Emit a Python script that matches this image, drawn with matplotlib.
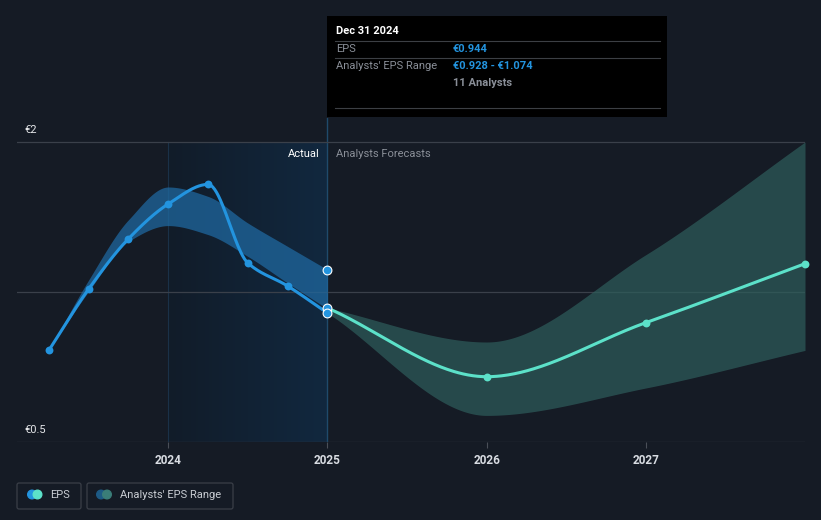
import matplotlib.pyplot as plt
from matplotlib.patches import Rectangle, FancyBboxPatch, Circle
from matplotlib.colors import LinearSegmentedColormap
import numpy as np

# actual EPS (quarterly, trailing)
act_x = [2023.25, 2023.5, 2023.75, 2024.0, 2024.25, 2024.5, 2024.75, 2025.0]
act_y = [0.958, 1.265, 1.516, 1.69, 1.788, 1.395, 1.28, 1.145]

# past analyst range band
past_x = [2023.25, 2023.5, 2023.75, 2024.0, 2024.25, 2024.5, 2024.75, 2025.0]
past_hi = [0.958, 1.31, 1.611, 1.775, 1.728, 1.595, 1.478, 1.362]
past_lo = [0.958, 1.253, 1.503, 1.582, 1.537, 1.428, 1.295, 1.166]

# forecasts
fc_x = [2025.0, 2026.0, 2027.0, 2028.0]
fc_y = [1.17, 0.8265, 1.0965, 1.3915]
fc_hi = [1.17, 1.0, 1.4365, 2.0]
fc_lo = [1.145, 0.633, 0.77, 0.958]

# estimate markers at Dec 31 2024
est_x = [2025.0, 2025.0, 2025.0]
est_y = [1.362, 1.17, 1.145]

years = [2024, 2025, 2026, 2027]

BG = '#151b25'
BLUE = '#2394df'
TEAL = '#5ce1c9'


def smooth(x, y, n=300):
    x = np.asarray(x, float)
    y = np.asarray(y, float)
    h = np.diff(x)
    d = np.diff(y) / h
    m = np.zeros_like(y)
    m[0], m[-1] = d[0], d[-1]
    for k in range(1, len(x) - 1):
        if d[k - 1] * d[k] <= 0:
            m[k] = 0
        else:
            w1 = 2 * h[k] + h[k - 1]
            w2 = h[k] + 2 * h[k - 1]
            m[k] = (w1 + w2) / (w1 / d[k - 1] + w2 / d[k])
    xs = np.linspace(x[0], x[-1], n)
    idx = np.clip(np.searchsorted(x, xs) - 1, 0, len(x) - 2)
    t = (xs - x[idx]) / h[idx]
    h00 = 2 * t**3 - 3 * t**2 + 1
    h10 = t**3 - 2 * t**2 + t
    h01 = -2 * t**3 + 3 * t**2
    h11 = t**3 - t**2
    ys = h00 * y[idx] + h10 * h[idx] * m[idx] + h01 * y[idx + 1] + h11 * h[idx] * m[idx + 1]
    return xs, ys


plt.rcParams['font.family'] = ['Roboto', 'DejaVu Sans']

fig = plt.figure(figsize=(8.21, 5.20), dpi=100)
fig.patch.set_facecolor(BG)

ax = fig.add_axes([17 / 821, (520 - 442) / 520, 788 / 821, 324 / 520])
ax.set_facecolor(BG)
ax.set_xlim(2023.05, 2028.0)
ax.set_ylim(0.5, 2.12)
for s in ax.spines.values():
    s.set_visible(False)
ax.set_yticks([])
ax.set_xticks(years)
ax.set_xticklabels([str(y) for y in years], color='#d8dce2', fontsize=8.5, fontweight='bold')
ax.tick_params(axis='x', length=4, color='#4a4f58', pad=5)

# shaded "actual" column, gradient left -> right
cm = LinearSegmentedColormap.from_list('col', ['#121c29', '#11283f'])
ax.imshow(np.linspace(0, 1, 100).reshape(1, -1), cmap=cm, aspect='auto',
          extent=[2024.0, 2025.0, 0.5, 2.0], zorder=0, interpolation='bilinear')
ax.set_xlim(2023.05, 2028.0)
ax.set_ylim(0.5, 2.12)
ax.plot([2024.0, 2024.0], [0.5, 2.0], color='#1a3148', lw=0.8, zorder=0.5)
ax.axvline(2025.0, color='#1f4a6b', lw=1.0, zorder=0.5)

# gridlines
for v in [0.5, 1.25, 2.0]:
    ax.axhline(v, color='#3a404a', lw=0.9, zorder=1)

# past range band
sx, shi = smooth(past_x, past_hi)
_, slo = smooth(past_x, past_lo)
ax.fill_between(sx, slo, shi, color='#1f6aa3', alpha=0.72, lw=0, zorder=2)

# forecast band
fx, fhi = smooth(fc_x, fc_hi)
_, flo = smooth(fc_x, fc_lo)
ax.fill_between(fx, flo, fhi, color='#2e5e5c', alpha=0.7, lw=0, zorder=2)

# lines
ax_, ay_ = smooth(act_x, act_y)
ax.plot(ax_, ay_, color=BLUE, lw=2.2, zorder=4)
ax.scatter(act_x, act_y, s=32, color=BLUE, zorder=5, lw=0)
fx2, fy2 = smooth(fc_x, fc_y)
ax.plot(fx2, fy2, color=TEAL, lw=2.2, zorder=4)
ax.scatter(fc_x[1:], fc_y[1:], s=32, color=TEAL, zorder=5, lw=0, clip_on=False)
ax.scatter(est_x, est_y, s=40, color=BLUE, edgecolor='white', lw=0.8, zorder=6)

# overlay in pixel coordinates
ov = fig.add_axes([0, 0, 1, 1])
ov.set_xlim(0, 821)
ov.set_ylim(520, 0)
ov.axis('off')
ov.patch.set_alpha(0)

ov.text(24, 130, '€2', color='#e6e8eb', fontsize=8, va='center')
ov.text(24, 430, '€0.5', color='#e6e8eb', fontsize=8, va='center')
ov.text(320, 154, 'Actual', color='#ffffff', fontsize=8, ha='right', va='center')
ov.text(336, 154, 'Analysts Forecasts', color='#8a8f98', fontsize=8, ha='left', va='center')

# tooltip
ov.add_patch(Rectangle((327, 16), 340, 101, facecolor='#000000', edgecolor='none', zorder=10))
for yy in [41, 58, 108]:
    ov.plot([335, 660], [yy, yy], color='#3c3f44', lw=0.8, zorder=11)
ov.text(336, 31, 'Dec 31 2024', color='white', fontsize=8, fontweight='bold', va='center', zorder=12)
ov.text(336, 49, 'EPS', color='#8a8f98', fontsize=8, va='center', zorder=12)
ov.text(453, 49, '€0.944', color='#2394df', fontsize=8, fontweight='bold', va='center', zorder=12)
ov.text(336, 66, "Analysts' EPS Range", color='#8a8f98', fontsize=8, va='center', zorder=12)
ov.text(453, 66, '€0.928 - €1.074', color='#2394df', fontsize=8, fontweight='bold', va='center', zorder=12)
ov.text(453, 83, '11 Analysts', color='#8a8f98', fontsize=8, fontweight='bold', va='center', zorder=12)

# legend
ov.add_patch(FancyBboxPatch((17, 483), 64, 26, boxstyle='round,pad=0,rounding_size=2',
                            facecolor='none', edgecolor='#3a3f48', lw=0.9))
ov.add_patch(Circle((32, 494.5), 4.3, color=BLUE))
ov.add_patch(Circle((37.5, 494.5), 4.3, color=TEAL))
ov.text(50, 494.5, 'EPS', color='#c9cdd3', fontsize=8, va='center')
ov.add_patch(FancyBboxPatch((87, 483), 146, 26, boxstyle='round,pad=0,rounding_size=2',
                            facecolor='none', edgecolor='#3a3f48', lw=0.9))
ov.add_patch(Circle((101, 494.5), 4.3, color='#1d5a85'))
ov.add_patch(Circle((107, 494.5), 4.3, color='#3a7d78'))
ov.text(120, 494.5, "Analysts' EPS Range", color='#c9cdd3', fontsize=8, va='center')

fig.savefig('out.png', dpi=100, facecolor=BG)
